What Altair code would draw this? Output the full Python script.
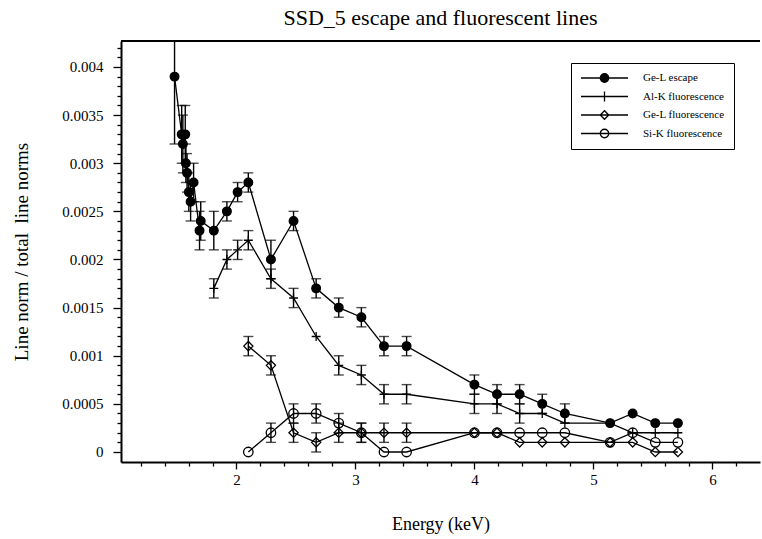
import altair as alt
import pandas as pd

FONT = "Liberation Serif"

series_names = ["Ge-L escape", "Al-K fluorescence", "Ge-L fluorescence", "Si-K fluorescence"]

# Ge-L escape
gel_esc_E = [1.48, 1.54, 1.55, 1.57, 1.575, 1.585, 1.60, 1.615, 1.64, 1.69, 1.70, 1.81, 1.92, 2.01,
             2.10, 2.29, 2.48, 2.67, 2.86, 3.05, 3.24, 3.43, 4.00, 4.19, 4.38, 4.57, 4.76, 5.14, 5.33, 5.52, 5.71]
gel_esc_V = [0.0039, 0.0033, 0.0032, 0.0033, 0.0030, 0.0029, 0.0027, 0.0026, 0.0028, 0.0023, 0.0024, 0.0023, 0.0025, 0.0027,
             0.0028, 0.0020, 0.0024, 0.0017, 0.0015, 0.0014, 0.0011, 0.0011, 0.0007, 0.0006, 0.0006, 0.0005, 0.0004, 0.0003, 0.0004, 0.0003, 0.0003]
gel_esc_err = [0.0007, 0.0003, 0.0003, 0.0003, 0.0002, 0.0002, 0.0002, 0.0002, 0.0002, 0.0002, 0.0002, 0.0002, 0.0001, 0.0001,
               0.0001, 0.0002, 0.0001, 0.0001, 0.0001, 0.0001, 0.0001, 0.0001, 0.0001, 0.0001, 0.0001, 0.0001, 0.0001, 0, 0, 0, 0]

# Al-K fluorescence
alk_E = [1.81, 1.92, 2.01, 2.10, 2.29, 2.48, 2.67, 2.86, 3.05, 3.24, 3.43, 4.00, 4.19, 4.38, 4.57, 4.76, 5.14, 5.33, 5.52, 5.71]
alk_V = [0.0017, 0.0020, 0.0021, 0.0022, 0.0018, 0.0016, 0.0012, 0.0009, 0.0008, 0.0006, 0.0006, 0.0005, 0.0005, 0.0004, 0.0004, 0.0003, 0.0003, 0.0002, 0.0002, 0.0002]
alk_err = [0.0001, 0.0001, 0.0001, 0.0001, 0.0001, 0.0001, 0, 0.0001, 0.0001, 0.0001, 0.0001, 0.0001, 0.0001, 0.0001, 0, 0, 0, 0, 0, 0]

# Ge-L fluorescence
gelf_E = [2.10, 2.29, 2.48, 2.67, 2.86, 3.05, 3.24, 3.43, 4.00, 4.19, 4.38, 4.57, 4.76, 5.14, 5.33, 5.52, 5.71]
gelf_V = [0.0011, 0.0009, 0.0002, 0.0001, 0.0002, 0.0002, 0.0002, 0.0002, 0.0002, 0.0002, 0.0001, 0.0001, 0.0001, 0.0001, 0.0001, 0.0, 0.0]
gelf_err = [0.0001, 0.0001, 0.0001, 0.0001, 0.0001, 0.0001, 0.0001, 0.0001, 0, 0, 0, 0, 0, 0, 0, 0, 0]

# Si-K fluorescence
sik_E = [2.10, 2.29, 2.48, 2.67, 2.86, 3.05, 3.24, 3.43, 4.00, 4.19, 4.38, 4.57, 4.76, 5.14, 5.33, 5.52, 5.71]
sik_V = [0.0, 0.0002, 0.0004, 0.0004, 0.0003, 0.0002, 0.0, 0.0, 0.0002, 0.0002, 0.0002, 0.0002, 0.0002, 0.0001, 0.0002, 0.0001, 0.0001]
sik_err = [0, 0.0001, 0.0001, 0.0001, 0.0001, 0.0001, 0, 0, 0, 0, 0, 0, 0, 0, 0, 0, 0]

rows = []
for name, Es, Vs, errs in zip(series_names,
                              [gel_esc_E, alk_E, gelf_E, sik_E],
                              [gel_esc_V, alk_V, gelf_V, sik_V],
                              [gel_esc_err, alk_err, gelf_err, sik_err]):
    for e, v, s in zip(Es, Vs, errs):
        rows.append({"series": name, "E": e, "V": v, "lo": v - s, "hi": v + s, "err": s})
df = pd.DataFrame(rows)
df_err = df[df["err"] > 0].reset_index(drop=True)
df_leg = pd.DataFrame({"series": series_names})

W, H = 639, 421
xscale = alt.Scale(domain=[1.03, 6.4], nice=False, zero=False)
yscale = alt.Scale(domain=[-0.000104, 0.00427], nice=False, zero=False)

x_ticks = [round(1.2 + 0.2 * i, 1) for i in range(26)]
y_ticks = [round(0.0001 * i, 4) for i in range(43)]

x_major = "abs(datum.value - round(datum.value)) < 1e-6"
y_major = "abs(datum.value * 2000 - round(datum.value * 2000)) < 1e-6"

axis_style = dict(grid=False, domainColor="black", domainWidth=2, tickColor="black", tickWidth=1.3,
                  labelFont=FONT, labelFontSize=15, labelColor="black", labelOverlap=False, labelFlush=False,
                  titleFont=FONT, titleFontWeight="normal", titleColor="black")

xaxis = alt.Axis(values=x_ticks, tickCount=200, title="Energy (keV)",
                 labelExpr=f"{x_major} ? format(datum.value, 'd') : ''",
                 tickSize={"condition": {"test": x_major, "value": 7}, "value": 4},
                 labelPadding=3, titlePadding=28, titleFontSize=18, **axis_style)
yaxis = alt.Axis(values=y_ticks, tickCount=200, title="Line norm / total\u00a0\u00a0line norms",
                 labelExpr=f"{y_major} ? format(datum.value, '~g') : ''",
                 tickSize={"condition": {"test": y_major, "value": 8}, "value": 4},
                 labelPadding=10, titlePadding=30, titleFontSize=19, **axis_style)

X = alt.X("E:Q", scale=xscale, axis=xaxis)
Y = alt.Y("V:Q", scale=yscale, axis=yaxis)

lines = alt.Chart(df).mark_line(color="black", strokeWidth=1.3).encode(
    x=X, y=Y, detail="series:N", order="E:Q")

bars = alt.Chart(df_err).mark_rule(color="black", strokeWidth=1.4, clip=True).encode(
    x=alt.X("E:Q", scale=xscale), y=alt.Y("lo:Q", scale=yscale), y2="hi:Q")
caps_lo = alt.Chart(df_err).mark_tick(orient="horizontal", color="black", size=10, thickness=1.4, clip=True).encode(
    x=alt.X("E:Q", scale=xscale), y=alt.Y("lo:Q", scale=yscale))
caps_hi = alt.Chart(df_err).mark_tick(orient="horizontal", color="black", size=10, thickness=1.4, clip=True).encode(
    x=alt.X("E:Q", scale=xscale), y=alt.Y("hi:Q", scale=yscale))

cross_path = "M-1,0L1,0M0,-1L0,1"
marker_shapes = ["circle", cross_path, "diamond", "circle"]
marker_fills = ["black", "transparent", "transparent", "transparent"]
marker_sizes = [75, 90, 70, 80]

points = alt.Chart(df).mark_point(color="black", stroke="black", strokeWidth=1.3, opacity=1).encode(
    x=alt.X("E:Q", scale=xscale), y=alt.Y("V:Q", scale=yscale),
    shape=alt.Shape("series:N", scale=alt.Scale(domain=series_names, range=marker_shapes), legend=None),
    fill=alt.Fill("series:N", scale=alt.Scale(domain=series_names, range=marker_fills), legend=None),
    size=alt.Size("series:N", scale=alt.Scale(domain=series_names, range=marker_sizes), legend=None),
)

r = 0.18
leg_circle = f"M-1,0L1,0M-{r},0A{r},{r},0,1,0,{r},0A{r},{r},0,1,0,-{r},0Z"
leg_cross = "M-1,0L1,0M0,-0.21L0,0.21"
leg_diamond = f"M-1,0L1,0M-{r},0L0,-{r}L{r},0L0,{r}Z"
legend_shapes = [leg_circle, leg_cross, leg_diamond, leg_circle]

legend = alt.Legend(title=None, orient="none", legendX=450, legendY=22, strokeColor="black",
                    padding=9, symbolSize=2209, symbolStrokeWidth=1.3,
                    labelFont=FONT, labelFontSize=11, labelColor="black", labelOffset=14,
                    clipHeight=12, rowPadding=6.5, fillColor="white")

legend_layer = alt.Chart(df_leg).transform_filter("false").mark_point(
    color="black", strokeWidth=1.3, opacity=1).encode(
    shape=alt.Shape("series:N", scale=alt.Scale(domain=series_names, range=legend_shapes), legend=legend),
    fill=alt.Fill("series:N", scale=alt.Scale(domain=series_names, range=marker_fills), legend=legend),
    stroke=alt.Stroke("series:N", scale=alt.Scale(domain=series_names, range=["black"] * 4), legend=legend),
)

top_border = alt.Chart(df_leg.head(1)).mark_rule(color="black", strokeWidth=2).encode(
    x=alt.value(0), x2=alt.value(W), y=alt.value(0))

chart = alt.layer(lines, bars, caps_lo, caps_hi, points, legend_layer, top_border).resolve_scale(
    shape="independent", fill="independent", stroke="independent"
).properties(
    width=W, height=H,
    autosize=alt.AutoSizeParams(type="none"),
    padding={"left": 121, "top": 41, "right": 2, "bottom": 77},
    title=alt.TitleParams("SSD_5 escape and fluorescent lines", font=FONT, fontSize=22,
                          fontWeight="normal", color="black", offset=10, anchor="middle"),
    background="white",
).configure_view(stroke=None)

chart.save("out.html", embed_options={"renderer": "svg", "actions": False})
